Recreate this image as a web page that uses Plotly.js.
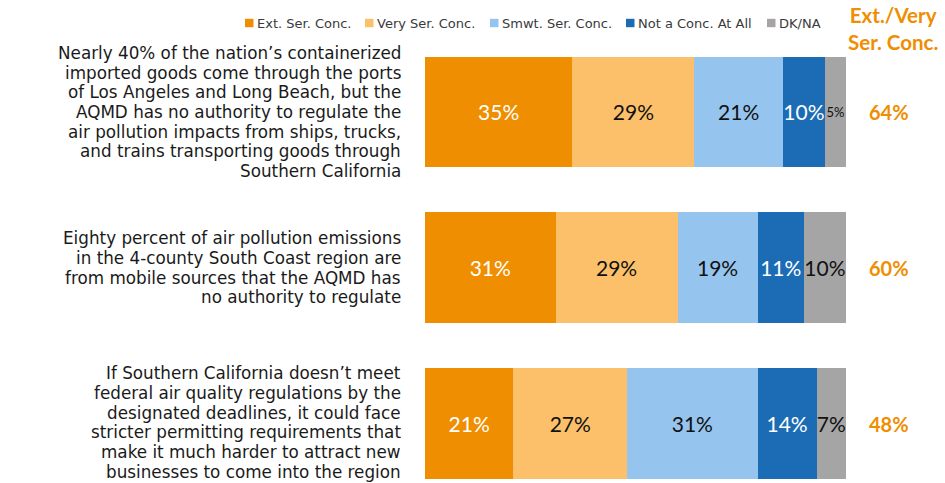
<!DOCTYPE html>
<html><head><meta charset="utf-8">
<script src="https://cdn.plot.ly/plotly-3.0.1.min.js"></script>
<style>html,body{margin:0;padding:0;background:#fff}#chart{width:945px;height:483px}</style>
</head><body><div id="chart"></div>
<script>
// ---- data ----
const statementLines = [
  ["Nearly 40% of the nation’s containerized", "imported goods come through the ports", "of Los Angeles and Long Beach, but the", "AQMD has no authority to regulate the", "air pollution impacts from ships, trucks,", "and trains transporting goods through", "Southern California"],
  ["Eighty percent of air pollution emissions", "in the 4-county South Coast region are", "from mobile sources that the AQMD has", "no authority to regulate"],
  ["If Southern California doesn’t meet", "federal air quality regulations by the", "designated deadlines, it could face", "stricter permitting requirements that", "make it much harder to attract new", "businesses to come into the region"]
];
const seriesNames = ["Ext. Ser. Conc.", "Very Ser. Conc.", "Smwt. Ser. Conc.", "Not a Conc. At All", "DK/NA"];
const extSer  = [35, 31, 21];
const verySer = [29, 29, 27];
const smwtSer = [21, 19, 31];
const notConc = [10, 11, 14];
const dkNa    = [5, 10, 7];
const extVeryTotals = [64, 60, 48];
const totalHeader = "Ext./Very<br>Ser. Conc.";

// ---- styling ----
const NUMFONT = "Lato, 'Open Sans', sans-serif";
const TXTFONT = "'DejaVu Sans', sans-serif";
const colors = ["#EF8E00", "#FCC06A", "#95C4EE", "#1B6CB5", "#A5A5A5"];
const textColors = ["#FFFFFF", "#111111", "#111111", "#FFFFFF", "#111111"];
const seriesValues = [extSer, verySer, smwtSer, notConc, dkNa];
const categories = statementLines.map(l => l.join(" "));

// plot area pixel geometry
const W = 945, H = 483;
const plotL = 425, plotR = 846, plotT = 50, plotB = 483;
const px2paperX = p => (p - plotL) / (plotR - plotL);
const px2paperY = p => (plotB - p) / (plotB - plotT);

const traces = seriesValues.map((vals, s) => ({
  type: "bar",
  orientation: "h",
  name: seriesNames[s],
  y: categories,
  x: vals,
  width: 0.71,
  marker: {color: colors[s], line: {width: 0}},
  text: vals.map(v => v + "%"),
  textposition: "inside",
  insidetextanchor: "middle",
  textangle: 0,
  constraintext: "none",
  textfont: {family: NUMFONT, color: textColors[s], size: vals.map(v => v < 6 ? 13 : 21)},
  hoverinfo: "skip",
  showlegend: false
}));

const annotations = [];
const shapes = [];
// category labels, one annotation per line
const lineGap = 19.7;
statementLines.forEach((lines, c) => {
  const n = lines.length;
  lines.forEach((line, i) => {
    annotations.push({
      xref: "paper", yref: "y", x: px2paperX(401), y: categories[c],
      xanchor: "right", yanchor: "middle",
      yshift: ((n - 1) / 2 - i) * lineGap + (c === 2 ? 1 : 0),
      text: line, showarrow: false, borderpad: 0, borderwidth: 0,
      font: {family: TXTFONT, size: 16.8, color: "#1a1a1a"}
    });
  });
});
// right-hand totals
extVeryTotals.forEach((v, c) => {
  annotations.push({
    xref: "paper", yref: "y", x: px2paperX(889), y: categories[c],
    xanchor: "center", yanchor: "middle",
    text: "<b>" + v + "%</b>", showarrow: false,
    font: {family: NUMFONT, size: 20, color: colors[0]}
  });
});
annotations.push({
  xref: "paper", yref: "paper", x: px2paperX(893), y: px2paperY(28),
  xanchor: "center", yanchor: "middle",
  text: "<b>" + totalHeader + "</b>", showarrow: false,
  font: {family: NUMFONT, size: 20.5, color: colors[0]}
});
// custom legend
const legendSquareX = [245, 365, 490, 626, 767];
seriesNames.forEach((name, s) => {
  const x0 = px2paperX(legendSquareX[s]);
  shapes.push({
    type: "rect", xref: "paper", yref: "paper",
    xsizemode: "pixel", ysizemode: "pixel",
    xanchor: x0, yanchor: px2paperY(23),
    x0: 0, x1: 8.5, y0: -4.2, y1: 4.2,
    fillcolor: colors[s], line: {width: 0}
  });
  annotations.push({
    xref: "paper", yref: "paper", x: x0, y: px2paperY(23),
    xanchor: "left", yanchor: "middle", xshift: 11,
    text: name, showarrow: false, borderpad: 0,
    font: {family: TXTFONT, size: 13, color: "#3a3a3a"}
  });
});

const layout = {
  width: W, height: H,
  margin: {l: plotL, r: W - plotR, t: plotT, b: H - plotB, pad: 0},
  barmode: "stack",
  paper_bgcolor: "#fff", plot_bgcolor: "#fff",
  xaxis: {range: [0, 100], visible: false, fixedrange: true},
  yaxis: {type: "category", categoryarray: categories, range: [2.382, -0.398],
          visible: false, fixedrange: true},
  showlegend: false,
  annotations: annotations,
  shapes: shapes,
  font: {family: NUMFONT}
};

Plotly.newPlot("chart", traces, layout, {displayModeBar: false, staticPlot: true});
</script></body></html>
